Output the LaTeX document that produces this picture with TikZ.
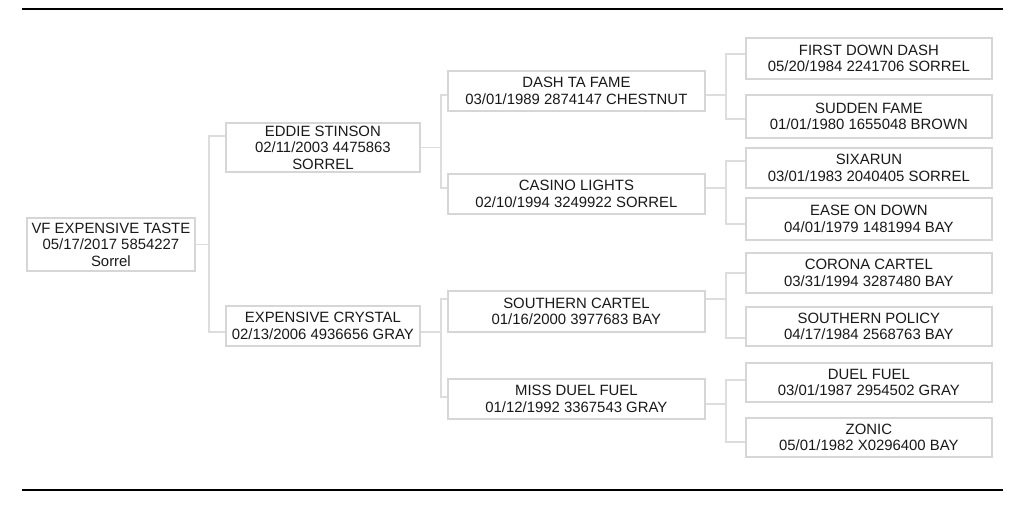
\documentclass[tikz,border=0pt]{standalone}
\usepackage{fontspec}
\setmainfont{Liberation Sans}
\usepackage{xcolor}
\usepackage{tikz}

\definecolor{boxline}{HTML}{D6D6D6}
\definecolor{linkline}{HTML}{DDDDDD}

\begin{document}
\begin{tikzpicture}[x=1pt, y=-1pt,
  box/.style={draw=boxline, line width=1.8pt, anchor=north west, align=center,
    inner sep=0pt, text=black!90, font=\fontsize{14.9}{16.5}\selectfont},
  link/.style={draw=linkline, line width=1.2pt},
  rule/.style={line width=2.6pt, black}]
  \useasboundingbox (0,0) rectangle (1024,511);

  % Page rules
  \draw[rule] (22,9) -- (1003,9);
  \draw[rule, line width=2pt] (22,490) -- (1003,490);

  % Horse
  \node[box, minimum width=168, minimum height=53] (taste) at (26,217)
    {VF EXPENSIVE TASTE\\05/17/2017 5854227\\Sorrel};

  % Sire and dam
  \node[box, minimum width=194, minimum height=49] (eddie) at (225,122)
    {EDDIE STINSON\\02/11/2003 4475863\\SORREL};
  \node[box, minimum width=194, minimum height=40] (crystal) at (225,305)
    {EXPENSIVE CRYSTAL\\02/13/2006 4936656 GRAY};

  % Grandparents
  \node[box, minimum width=257, minimum height=40] (dash) at (447,70)
    {DASH TA FAME\\03/01/1989 2874147 CHESTNUT};
  \node[box, minimum width=257, minimum height=40] (casino) at (447,173)
    {CASINO LIGHTS\\02/10/1994 3249922 SORREL};
  \node[box, minimum width=257, minimum height=41] (scartel) at (447,290)
    {SOUTHERN CARTEL\\01/16/2000 3977683 BAY};
  \node[box, minimum width=257, minimum height=40] (miss) at (447,378)
    {MISS DUEL FUEL\\01/12/1992 3367543 GRAY};

  % Great-grandparents
  \node[box, minimum width=246, minimum height=41] (first) at (745,37)
    {FIRST DOWN DASH\\05/20/1984 2241706 SORREL};
  \node[box, minimum width=246, minimum height=43] (sudden) at (745,94)
    {SUDDEN FAME\\01/01/1980 1655048 BROWN};
  \node[box, minimum width=246, minimum height=40] (sixarun) at (745,147)
    {SIXARUN\\03/01/1983 2040405 SORREL};
  \node[box, minimum width=246, minimum height=42] (ease) at (745,197)
    {EASE ON DOWN\\04/01/1979 1481994 BAY};
  \node[box, minimum width=246, minimum height=40] (corona) at (745,252)
    {CORONA CARTEL\\03/31/1994 3287480 BAY};
  \node[box, minimum width=246, minimum height=39] (policy) at (745,306)
    {SOUTHERN POLICY\\04/17/1984 2568763 BAY};
  \node[box, minimum width=246, minimum height=39] (duel) at (745,362)
    {DUEL FUEL\\03/01/1987 2954502 GRAY};
  \node[box, minimum width=246, minimum height=39] (zonic) at (745,417)
    {ZONIC\\05/01/1982 X0296400 BAY};

  % Junction columns
  \coordinate (j1) at (209,0);
  \coordinate (j2) at (441,0);
  \coordinate (j3) at (726,0);

  % Where the lines meet the boxes
  \coordinate (in-eddie)   at ([yshift=-14pt]eddie.north west);
  \coordinate (in-crystal) at ([yshift=-27pt]crystal.north west);
  \coordinate (in-dash)    at ([yshift=-25pt]dash.north west);
  \coordinate (in-casino)  at ([yshift=-15pt]casino.north west);
  \coordinate (in-scartel) at ([yshift=-9pt]scartel.north west);
  \coordinate (in-miss)    at ([yshift=-19pt]miss.north west);
  \coordinate (out-miss)   at ([yshift=-26pt]miss.north east);
  \coordinate (in-first)   at ([yshift=-17pt]first.north west);
  \coordinate (in-sudden)  at ([yshift=-25pt]sudden.north west);
  \coordinate (in-sixarun) at ([yshift=-14pt]sixarun.north west);
  \coordinate (in-ease)    at ([yshift=-27pt]ease.north west);
  \coordinate (in-corona)  at ([yshift=-21pt]corona.north west);
  \coordinate (in-policy)  at ([yshift=-32pt]policy.north west);
  \coordinate (in-duel)    at ([yshift=-18pt]duel.north west);
  \coordinate (in-zonic)   at ([yshift=-25pt]zonic.north west);

  % Horse -> sire, dam
  \draw[link] (taste.east) -| (j1 |- in-eddie) -- (in-eddie);
  \draw[link] (taste.east -| j1) |- (in-crystal);

  % Sire -> grandparents
  \draw[link] (eddie.east) -| (j2 |- in-dash) -- (in-dash);
  \draw[link] (eddie.east -| j2) |- (in-casino);

  % Dam -> grandparents
  \draw[link] (in-crystal -| crystal.east) -| (j2 |- in-scartel) -- (in-scartel);
  \draw[link] (in-crystal -| j2) |- (in-miss);

  % Grandparents -> great-grandparents
  \draw[link] (in-dash -| dash.east) -| (j3 |- in-first) -- (in-first);
  \draw[link] (in-dash -| j3) |- (in-sudden);
  \draw[link] (in-casino -| casino.east) -| (j3 |- in-sixarun) -- (in-sixarun);
  \draw[link] (in-casino -| j3) |- (in-ease);
  \draw[link] (in-scartel -| scartel.east) -| (j3 |- in-corona) -- (in-corona);
  \draw[link] (in-scartel -| j3) |- (in-policy);
  \draw[link] (out-miss) -| (j3 |- in-duel) -- (in-duel);
  \draw[link] (out-miss -| j3) |- (in-zonic);
\end{tikzpicture}
\end{document}
